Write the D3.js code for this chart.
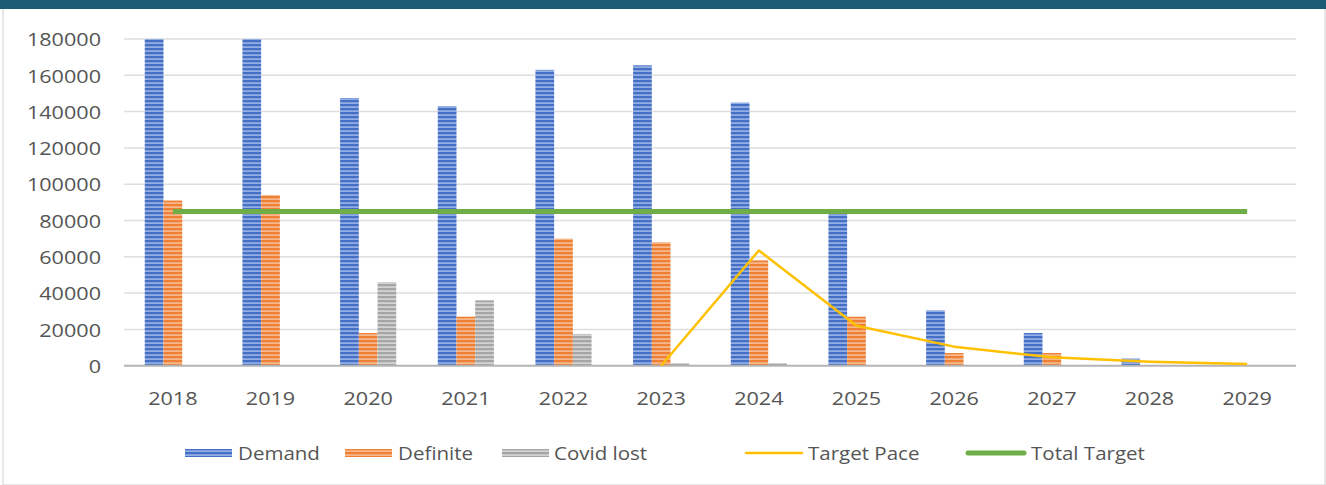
<!DOCTYPE html>
<html>
<head>
<meta charset="utf-8">
<script src="https://cdn.jsdelivr.net/npm/d3@7"></script>
<style>
  html, body { margin: 0; padding: 0; background: #ffffff; }
  svg { display: block; }
  text { font-family: "Open Sans", "Liberation Sans", sans-serif; fill: #555555; }
</style>
</head>
<body>
<svg id="chart" width="1326" height="485"></svg>
<script>
// ---- data ----
const years = ["2018","2019","2020","2021","2022","2023","2024","2025","2026","2027","2028","2029"];
const demand   = [180000, 180000, 147500, 143000, 163000, 165500, 145000, 85000, 30500, 18000, 4000, 0];
const definite = [91000, 94000, 18000, 27000, 70000, 68000, 58000, 27000, 7000, 7000, 0, 0];
const covidLost = [0, 0, 46000, 36000, 17500, 1500, 1500, 0, 0, 0, 0, 0];
const targetPace = [null, null, null, null, null, 0, 63500, 22000, 10500, 4600, 2200, 900];
const totalTarget = [85000, 85000, 85000, 85000, 85000, 85000, 85000, 85000, 85000, 85000, 85000, 85000];
const yTicks = [0, 20000, 40000, 60000, 80000, 100000, 120000, 140000, 160000, 180000];
const seriesNames = ["Demand", "Definite", "Covid lost"];

const W = 1326, H = 485;
const TX = 1.2;   // horizontal stretch of axis labels
const LTX = 1.08; // horizontal stretch of legend labels
const svg = d3.select("#chart");

// frame
svg.append("rect").attr("x", 3).attr("y", 0).attr("width", 1322).attr("height", H)
  .attr("fill", "none").attr("stroke", "#cfcfcf").attr("stroke-width", 1);
svg.append("rect").attr("x", 0).attr("y", 0).attr("width", W).attr("height", 9).attr("fill", "#1b5b74");

// striped fills for the bars
const defs = svg.append("defs");
const fills = [
  { id: "pDemand", base: "#4570c6", light: "#a6bdea" },
  { id: "pDefinite", base: "#ee7f35", light: "#f9c6a0" },
  { id: "pCovid", base: "#a5a5a5", light: "#dedede" }
];
fills.forEach(f => {
  const p = defs.append("pattern").attr("id", f.id).attr("patternUnits", "userSpaceOnUse")
    .attr("width", 8).attr("height", 4);
  p.append("rect").attr("width", 8).attr("height", 4).attr("fill", f.base);
  p.append("rect").attr("y", 2.4).attr("width", 8).attr("height", 1.4).attr("fill", f.light);
});

// scales
const x = d3.scaleBand().domain(years).range([124, 1296]).padding(0);
const xs = d3.scaleBand().domain(seriesNames).range([0, x.bandwidth()]).paddingInner(0).paddingOuter(1.11);
const y = d3.scaleLinear().domain([0, 180000]).range([365.7, 39]);

// gridlines
svg.append("g").selectAll("line").data(yTicks.filter(t => t > 0)).join("line")
  .attr("x1", 124).attr("x2", 1296)
  .attr("y1", d => y(d)).attr("y2", d => y(d))
  .attr("stroke", "#dedede").attr("stroke-width", 1.5);

// y axis labels
const yAxis = d3.axisLeft(y).tickValues(yTicks).tickSize(0).tickPadding(0).tickFormat(d3.format("d"));
const gy = svg.append("g").attr("transform", "translate(101,0)").call(yAxis);
gy.select(".domain").remove();
gy.selectAll("text")
  .attr("x", null).attr("dy", null)
  .attr("font-size", 18).attr("fill", "#555555")
  .attr("dominant-baseline", "central")
  .attr("transform", `scale(${TX},1)`)
  .attr("text-anchor", "end")
  .style("font-family", '"Open Sans", sans-serif');
gy.selectAll(".tick").each(function(d) {
  d3.select(this).attr("transform", `translate(0,${y(d) + 0.5})`);
});

// bars
const series = [
  { name: "Demand", values: demand, fill: "url(#pDemand)" },
  { name: "Definite", values: definite, fill: "url(#pDefinite)" },
  { name: "Covid lost", values: covidLost, fill: "url(#pCovid)" }
];
series.forEach(s => {
  svg.append("g").selectAll("rect").data(years).join("rect")
    .attr("x", (d) => x(d) + xs(s.name))
    .attr("width", xs.bandwidth())
    .attr("y", (d, i) => y(s.values[i]))
    .attr("height", (d, i) => y(0) - y(s.values[i]))
    .attr("fill", s.fill);
});

// x axis line
svg.append("line").attr("x1", 124).attr("x2", 1296).attr("y1", y(0)).attr("y2", y(0))
  .attr("stroke", "#b4b4b4").attr("stroke-width", 2);

// x labels
const xAxis = d3.axisBottom(x).tickSize(0).tickPadding(0);
const gx = svg.append("g").call(xAxis);
gx.select(".domain").remove();
gx.selectAll("text")
  .attr("y", null).attr("dy", null)
  .attr("font-size", 18).attr("fill", "#555555")
  .attr("text-anchor", "middle")
  .attr("transform", `translate(0,405) scale(${TX},1)`)
  .style("font-family", '"Open Sans", sans-serif');

// lines
const cx = d => x(d) + x.bandwidth() / 2;
const lineTotal = d3.line().x((d, i) => cx(years[i])).y(d => y(d));
svg.append("path").datum(totalTarget).attr("d", lineTotal)
  .attr("fill", "none").attr("stroke", "#6fad46").attr("stroke-width", 5);
const linePace = d3.line().defined(d => d !== null).x((d, i) => cx(years[i])).y(d => y(d));
svg.append("path").datum(targetPace).attr("d", linePace)
  .attr("fill", "none").attr("stroke", "#ffc000").attr("stroke-width", 2.5)
  .attr("stroke-linejoin", "round");

// legend
const legend = [
  { label: "Demand", kind: "bar", fill: "url(#pDemand)", sx: 185, tx: 238 },
  { label: "Definite", kind: "bar", fill: "url(#pDefinite)", sx: 345, tx: 398 },
  { label: "Covid lost", kind: "bar", fill: "url(#pCovid)", sx: 502, tx: 554 },
  { label: "Target Pace", kind: "line", color: "#ffc000", w: 2.5, sx: 746, tx: 808 },
  { label: "Total Target", kind: "line", color: "#6fad46", w: 5, sx: 968, tx: 1031 }
];
const ly = 453;
const lg = svg.append("g");
legend.forEach(l => {
  if (l.kind === "bar") {
    lg.append("rect").attr("x", l.sx).attr("y", ly - 4).attr("width", 47).attr("height", 8).attr("fill", l.fill);
  } else {
    lg.append("line").attr("x1", l.sx).attr("x2", l.sx + 56).attr("y1", ly).attr("y2", ly)
      .attr("stroke", l.color).attr("stroke-width", l.w).attr("stroke-linecap", "round");
  }
  lg.append("text").text(l.label)
    .attr("transform", `translate(${l.tx},${ly}) scale(${LTX},1)`)
    .attr("dominant-baseline", "central")
    .attr("font-size", 19);
});
</script>
</body>
</html>
